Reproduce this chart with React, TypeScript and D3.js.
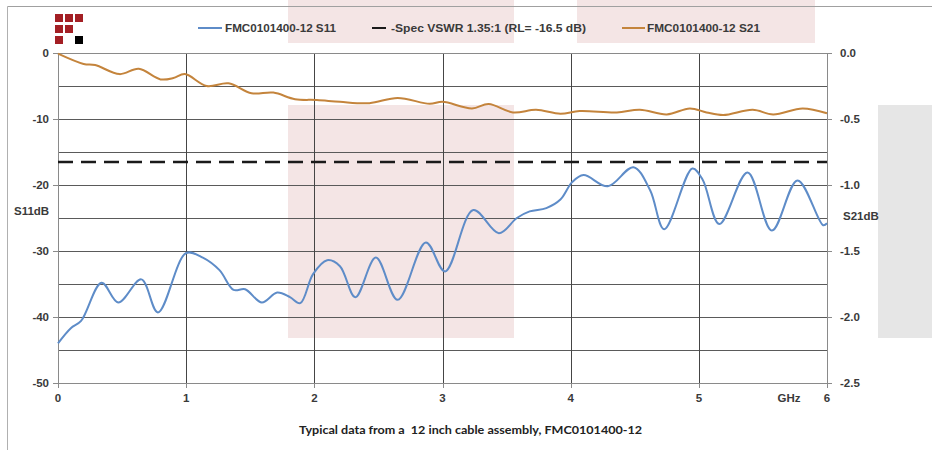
import React from 'react';
import * as d3 from 'd3';

// S11 (left axis, dB)
const s11Freq = [0, 0.1, 0.18, 0.34, 0.47, 0.65, 0.78, 1.0, 1.13, 1.26, 1.37, 1.46, 1.59, 1.71, 1.81, 1.89, 1.99, 2.1, 2.2, 2.32, 2.48, 2.65, 2.87, 3.02, 3.24, 3.44, 3.58, 3.68, 3.81, 3.92, 4.01, 4.1, 4.29, 4.49, 4.62, 4.73, 4.95, 5.03, 5.16, 5.38, 5.57, 5.77, 5.97, 6.0];
const s11Db = [-44.0, -41.7, -40.6, -34.8, -37.8, -34.3, -39.3, -30.3, -31.0, -32.9, -35.9, -35.8, -37.8, -36.3, -37.0, -37.9, -33.5, -31.4, -32.3, -37.0, -31.0, -37.4, -28.7, -33.1, -23.8, -27.3, -25.0, -24.0, -23.5, -22.2, -19.6, -18.5, -20.2, -17.3, -20.8, -26.7, -17.5, -19.2, -25.9, -18.1, -26.9, -19.3, -26.1, -25.8];

// S21 (right axis, dB)
const s21Freq = [0, 0.2, 0.29, 0.48, 0.63, 0.8, 0.9, 0.99, 1.16, 1.33, 1.51, 1.68, 1.85, 2.02, 2.2, 2.43, 2.65, 2.9, 3.0, 3.23, 3.36, 3.55, 3.73, 3.92, 4.07, 4.36, 4.54, 4.75, 4.93, 5.06, 5.19, 5.42, 5.58, 5.81, 6.0];
const s21Db = [-0.005, -0.083, -0.091, -0.16, -0.12, -0.2, -0.19, -0.16, -0.25, -0.23, -0.305, -0.3, -0.35, -0.356, -0.37, -0.38, -0.34, -0.385, -0.37, -0.42, -0.386, -0.45, -0.43, -0.46, -0.44, -0.45, -0.43, -0.465, -0.42, -0.45, -0.47, -0.43, -0.465, -0.42, -0.457];

const specLimit = -16.5;

const xTicks = [0, 1, 2, 3, 4, 5, 6];
const leftTicks = [0, -10, -20, -30, -40, -50];
const rightTicks = [0, -0.5, -1.0, -1.5, -2.0, -2.5];
const gridLines = [-5, -10, -15, -20, -25, -30, -35, -40, -45];

const legendLabels = ['FMC0101400-12 S11', '-Spec VSWR 1.35:1 (RL= -16.5 dB)', 'FMC0101400-12 S21'];
const caption = 'Typical data from a  12 inch cable assembly, FMC0101400-12';

const W = 932;
const H = 450;
const m = { left: 58, right: 827, top: 53, bottom: 383 };
const blue = '#5e8cc8';
const orange = '#c4843c';
const font = '"Liberation Sans", Arial, sans-serif';

export default function App() {
  const x = d3.scaleLinear().domain([0, 6]).range([m.left, m.right]);
  const yL = d3.scaleLinear().domain([-50, 0]).range([m.bottom, m.top]);
  const yR = d3.scaleLinear().domain([-2.5, 0]).range([m.bottom, m.top]);

  const s11 = s11Freq.map((f, i) => [f, s11Db[i]] as [number, number]);
  const s21 = s21Freq.map((f, i) => [f, s21Db[i]] as [number, number]);

  const lineL = d3.line<[number, number]>().x(d => x(d[0])).y(d => yL(d[1])).curve(d3.curveCatmullRom.alpha(0.5));
  const lineR = d3.line<[number, number]>().x(d => x(d[0])).y(d => yR(d[1])).curve(d3.curveCatmullRom.alpha(0.5));

  const labelStyle = { fontFamily: font, fontWeight: 700, fontSize: 11.5, fill: '#3a3a3a' } as const;

  // logo squares: [col, row, colour]
  const logo: [number, number, string][] = [
    [0, 0, '#a31f24'], [1, 0, '#a31f24'], [2, 0, '#a31f24'],
    [0, 1, '#a31f24'], [1, 1, '#a31f24'],
    [0, 2, '#a31f24'], [2, 2, '#000'],
  ];

  return (
    <div style={{ position: 'fixed', left: 0, top: 0 }}>
      <svg width={W} height={H} style={{ display: 'block', background: '#fff' }}>
        {/* scan artefacts */}
        <rect x={288} y={0} width={226} height={43} fill="#f4e5e5" />
        <rect x={577} y={0} width={238} height={43} fill="#f4e5e5" />
        <rect x={288} y={105} width={226} height={233} fill="#f4e5e5" />
        <rect x={878} y={105} width={54} height={233} fill="#e6e6e6" />

        {/* outer frame */}
        <line x1={7.5} x2={W} y1={6.5} y2={6.5} stroke="#a0a0a0" />
        <line x1={7.5} x2={7.5} y1={6.5} y2={H} stroke="#b0b0b0" />

        {logo.map(([c, r, col], i) => (
          <rect key={i} x={55 + c * 10} y={14 + r * 11} width={8} height={8} fill={col} />
        ))}

        {/* grid */}
        {gridLines.map(v => (
          <line key={v} x1={m.left} x2={m.right} y1={Math.round(yL(v)) + 0.5} y2={Math.round(yL(v)) + 0.5} stroke="#5a5a5a" />
        ))}
        {xTicks.slice(1).map(v => (
          <line key={v} x1={Math.round(x(v)) + 0.5} x2={Math.round(x(v)) + 0.5} y1={m.top} y2={m.bottom} stroke="#454545" />
        ))}
        <line x1={m.left} x2={m.right} y1={m.top + 0.5} y2={m.top + 0.5} stroke="#8a8a8a" />

        {/* axes */}
        <line x1={m.left + 0.5} x2={m.left + 0.5} y1={m.top} y2={m.bottom} stroke="#8a8a8a" />
        <line x1={m.left} x2={m.right + 1} y1={m.bottom + 0.5} y2={m.bottom + 0.5} stroke="#8a8a8a" />
        <line x1={m.right + 0.5} x2={m.right + 0.5} y1={m.top} y2={m.bottom} stroke="#8a8a8a" />

        {leftTicks.map(v => (
          <g key={v}>
            <line x1={m.left - 5} x2={m.left} y1={Math.round(yL(v)) + 0.5} y2={Math.round(yL(v)) + 0.5} stroke="#8a8a8a" />
            <text x={49} y={yL(v) + 4} textAnchor="end" style={labelStyle}>{v}</text>
          </g>
        ))}
        {rightTicks.map(v => (
          <g key={v}>
            <line x1={m.right} x2={m.right + 5} y1={Math.round(yR(v)) + 0.5} y2={Math.round(yR(v)) + 0.5} stroke="#8a8a8a" />
            <text x={840} y={yR(v) + 4} style={labelStyle}>{v.toFixed(1)}</text>
          </g>
        ))}
        {xTicks.map(v => (
          <g key={v}>
            <line x1={Math.round(x(v)) + 0.5} x2={Math.round(x(v)) + 0.5} y1={m.bottom} y2={m.bottom + 5} stroke="#8a8a8a" />
            <text x={x(v)} y={402} textAnchor="middle" style={labelStyle}>{v}</text>
          </g>
        ))}
        <text x={789} y={402} textAnchor="middle" style={labelStyle}>GHz</text>
        <text x={14} y={215} style={labelStyle}>S11dB</text>
        <text x={843} y={220} style={labelStyle}>S21dB</text>

        {/* spec limit */}
        <line x1={m.left} x2={m.right} y1={yL(specLimit)} y2={yL(specLimit)} stroke="#1a1a1a" strokeWidth={2.5} strokeDasharray="15 8" />

        {/* series */}
        <path d={lineR(s21) || ''} fill="none" stroke={orange} strokeWidth={2} />
        <path d={lineL(s11) || ''} fill="none" stroke={blue} strokeWidth={2} />

        {/* legend */}
        <line x1={198} x2={222} y1={28} y2={28} stroke={blue} strokeWidth={2} />
        <text x={225} y={32} style={labelStyle} textLength={111} lengthAdjust="spacingAndGlyphs">{legendLabels[0]}</text>
        <line x1={372} x2={386} y1={28} y2={28} stroke="#1a1a1a" strokeWidth={2} />
        <text x={391} y={32} style={labelStyle} textLength={195} lengthAdjust="spacingAndGlyphs">{legendLabels[1]}</text>
        <line x1={622} x2={645} y1={28} y2={28} stroke={orange} strokeWidth={2} />
        <text x={647} y={32} style={labelStyle} textLength={113} lengthAdjust="spacingAndGlyphs">{legendLabels[2]}</text>

        <text x={299} y={434} xmlSpace="preserve" style={{ ...labelStyle, fontFamily: 'Lato, sans-serif', fontSize: 12, fill: '#222', whiteSpace: 'pre' }} textLength={343} lengthAdjust="spacingAndGlyphs">{caption}</text>
      </svg>
    </div>
  );
}
